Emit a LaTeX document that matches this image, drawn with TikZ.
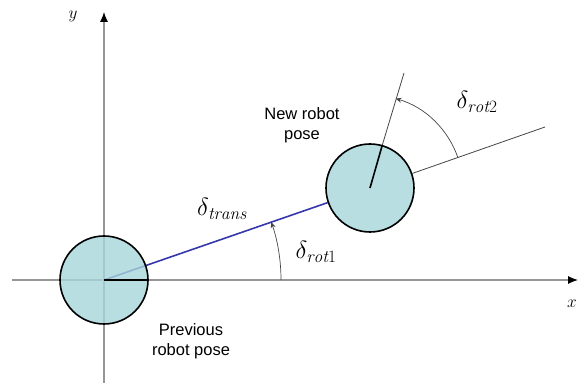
\documentclass[tikz,border=0pt]{standalone}
\usepackage{amsmath}
\usepackage{fontspec}
\newfontfamily\labelfont{Liberation Sans}
\usepackage{tikz}
\usetikzlibrary{arrows.meta,positioning,calc,backgrounds}
\definecolor{posefill}{RGB}{166,214,219}
\definecolor{axisgray}{RGB}{150,150,150}
\definecolor{transblue}{RGB}{55,55,172}
\definecolor{raygray}{RGB}{70,70,70}

\begin{document}
\begin{tikzpicture}[x=1pt,y=1pt,
  font=\labelfont\fontsize{16.5}{20.5}\selectfont,
  pose/.style={circle,draw=black,line width=1.6pt,fill=posefill,
               fill opacity=0.8,minimum size=88pt,inner sep=0pt},
  axis/.style={draw=axisgray,line width=1.1pt,
               -{Latex[length=10pt,width=8pt,color=black]}},
  ray/.style={draw=raygray,line width=0.8pt},
  ang/.style={draw=raygray,line width=0.7pt,-{Stealth[length=6pt,width=5pt]}},
  dlt/.style={font=\fontsize{25}{28}\selectfont},
  axlab/.style={font=\fontsize{17}{20}\selectfont}]
\useasboundingbox (0,0) rectangle (579,383);

% axes
\coordinate (o) at (104,103);
\coordinate (xl) at (12,103);
\coordinate (xr) at (578,103);
\coordinate (yb) at (104,0);
\coordinate (yt) at (104,371);
\draw[axis] (xl) -- (xr);
\draw[axis] (yb) -- (yt);
\node[axlab] (ylab) at (73,367) {$y$};
\node[axlab] (xlab) at (572,79) {$x$};

% poses
\coordinate (nc) at (370,195);
\node[pose] (prev) at (o) {};
\node[pose] (new) at (nc) {};
\begin{pgfonlayer}{background}
\draw[transblue,line width=1.6pt] (prev.center) -- (new);
\end{pgfonlayer}
\draw[line width=1.6pt] (prev.center) -- (prev.east);
\draw[line width=1.6pt] (new.center) -- (new.74);

% rays
\coordinate (ext) at (545,256);
\coordinate (head) at (404,310);
\draw[ray] (new.19.1) -- (ext);
\draw[ray] (new.74) -- (head);

% angles
\draw[ang] (281,103) arc[start angle=0,end angle=19.1,radius=177];
\draw[ang] ($(nc)+(19.1:93)$) arc[start angle=19.1,end angle=74,radius=93];

% labels
\node[dlt] (dtrans) at (222,174) {$\delta_{\mathit{trans}}$};
\node[dlt] (drot1) at (316,131) {$\delta_{\mathit{rot}1}$};
\node[dlt] (drot2) at (477,281) {$\delta_{\mathit{rot}2}$};
\node[align=center] (newlab) at (302,258) {New robot\\pose};
\node[align=center] (prevlab) at (191,42) {Previous\\robot pose};
\end{tikzpicture}
\end{document}
